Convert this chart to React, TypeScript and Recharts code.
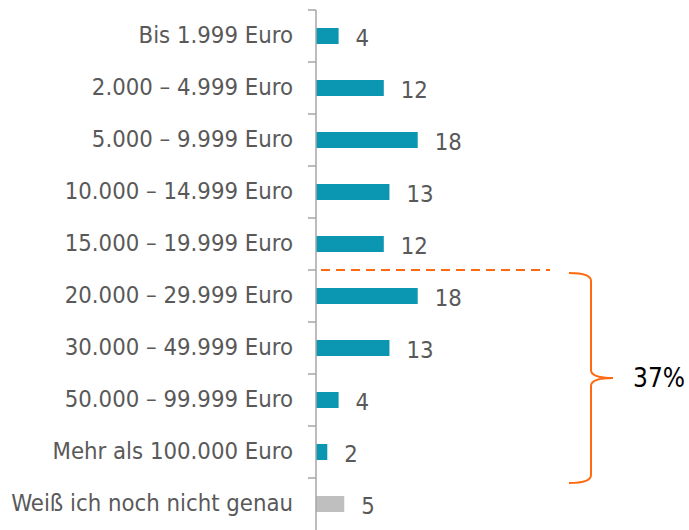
import { Bar, BarChart, Cell, LabelList, XAxis, YAxis } from 'recharts';

const categories = [
  'Bis 1.999 Euro',
  '2.000 – 4.999 Euro',
  '5.000 – 9.999 Euro',
  '10.000 – 14.999 Euro',
  '15.000 – 19.999 Euro',
  '20.000 – 29.999 Euro',
  '30.000 – 49.999 Euro',
  '50.000 – 99.999 Euro',
  'Mehr als 100.000 Euro',
  'Weiß ich noch nicht genau',
];
const shares = [4, 12, 18, 13, 12, 18, 13, 4, 2, 5];
const unsureIndex = 9;
const bracketFrom = 5;
const bracketTo = 8;
const bracketLabel = '37%';

const data = categories.map((name, i) => ({ name, value: shares[i] }));

const WIDTH = 689;
const HEIGHT = 530;
const AXIS_X = 316;
const TOP = 10;
const BAND = (HEIGHT - TOP) / categories.length;
const FONT = '"DejaVu Sans Condensed", "DejaVu Sans", sans-serif';
const FONT_SIZE = 23.7;
const TEXT = '#595959';
const AXIS = '#a6a6a6';
const TEAL = '#0b96b1';
const GREY = '#bfbfbf';
const ORANGE = '#ff6a10';

function CategoryTick(props: any) {
  const { y, payload } = props;
  const edge = y - BAND / 2;
  return (
    <g>
      <line x1={AXIS_X - 8} x2={AXIS_X} y1={edge} y2={edge} stroke={AXIS} strokeWidth={1.5} />
      <text
        x={AXIS_X - 23}
        y={y}
        dy={-1}
        textAnchor="end"
        dominantBaseline="central"
        fill={TEXT}
        fontSize={FONT_SIZE}
        fontFamily={FONT}
      >
        {payload.value}
      </text>
    </g>
  );
}

function Overlay() {
  const lineY = TOP + bracketFrom * BAND;
  const top = lineY + 3;
  const bottom = TOP + (bracketTo + 1) * BAND + 5;
  const mid = (top + bottom) / 2;
  const bx = 591;
  const path = `M569,${top} Q${bx},${top} ${bx},${top + 8} L${bx},${mid - 8} Q${bx},${mid} 613,${mid} Q${bx},${mid} ${bx},${mid + 8} L${bx},${bottom - 8} Q${bx},${bottom} 569,${bottom}`;
  return (
    <svg
      width={WIDTH}
      height={HEIGHT}
      style={{ position: 'absolute', left: 0, top: 0, pointerEvents: 'none' }}
    >
      <line x1={321} x2={550} y1={lineY} y2={lineY} stroke={ORANGE} strokeWidth={2} strokeDasharray="9 6" />
      <path d={path} fill="none" stroke={ORANGE} strokeWidth={2} />
      <text x={633} y={mid} dominantBaseline="central" fontSize={26} fontFamily={FONT} fill="#000">
        {bracketLabel}
      </text>
    </svg>
  );
}

export default function App() {
  return (
    <div style={{ position: 'absolute', left: 0, top: 0, width: WIDTH, height: HEIGHT, background: '#fff' }}>
      <BarChart
        width={WIDTH}
        height={HEIGHT}
        data={data}
        layout="vertical"
        margin={{ top: TOP, right: 34, bottom: 0, left: 0 }}
      >
        <XAxis type="number" domain={[0, 60]} hide />
        <YAxis
          type="category"
          dataKey="name"
          width={AXIS_X}
          axisLine={{ stroke: AXIS, strokeWidth: 1.5 }}
          tickLine={false}
          tick={<CategoryTick />}
          interval={0}
        />
        <Bar dataKey="value" barSize={16} isAnimationActive={false}>
          {data.map((_, i) => (
            <Cell key={i} fill={i === unsureIndex ? GREY : TEAL} />
          ))}
          <LabelList
            dataKey="value"
            position="right"
            offset={17}
            fill={TEXT}
            fontSize={FONT_SIZE}
            fontFamily={FONT}
            dy={2}
          />
        </Bar>
      </BarChart>
      <Overlay />
    </div>
  );
}
